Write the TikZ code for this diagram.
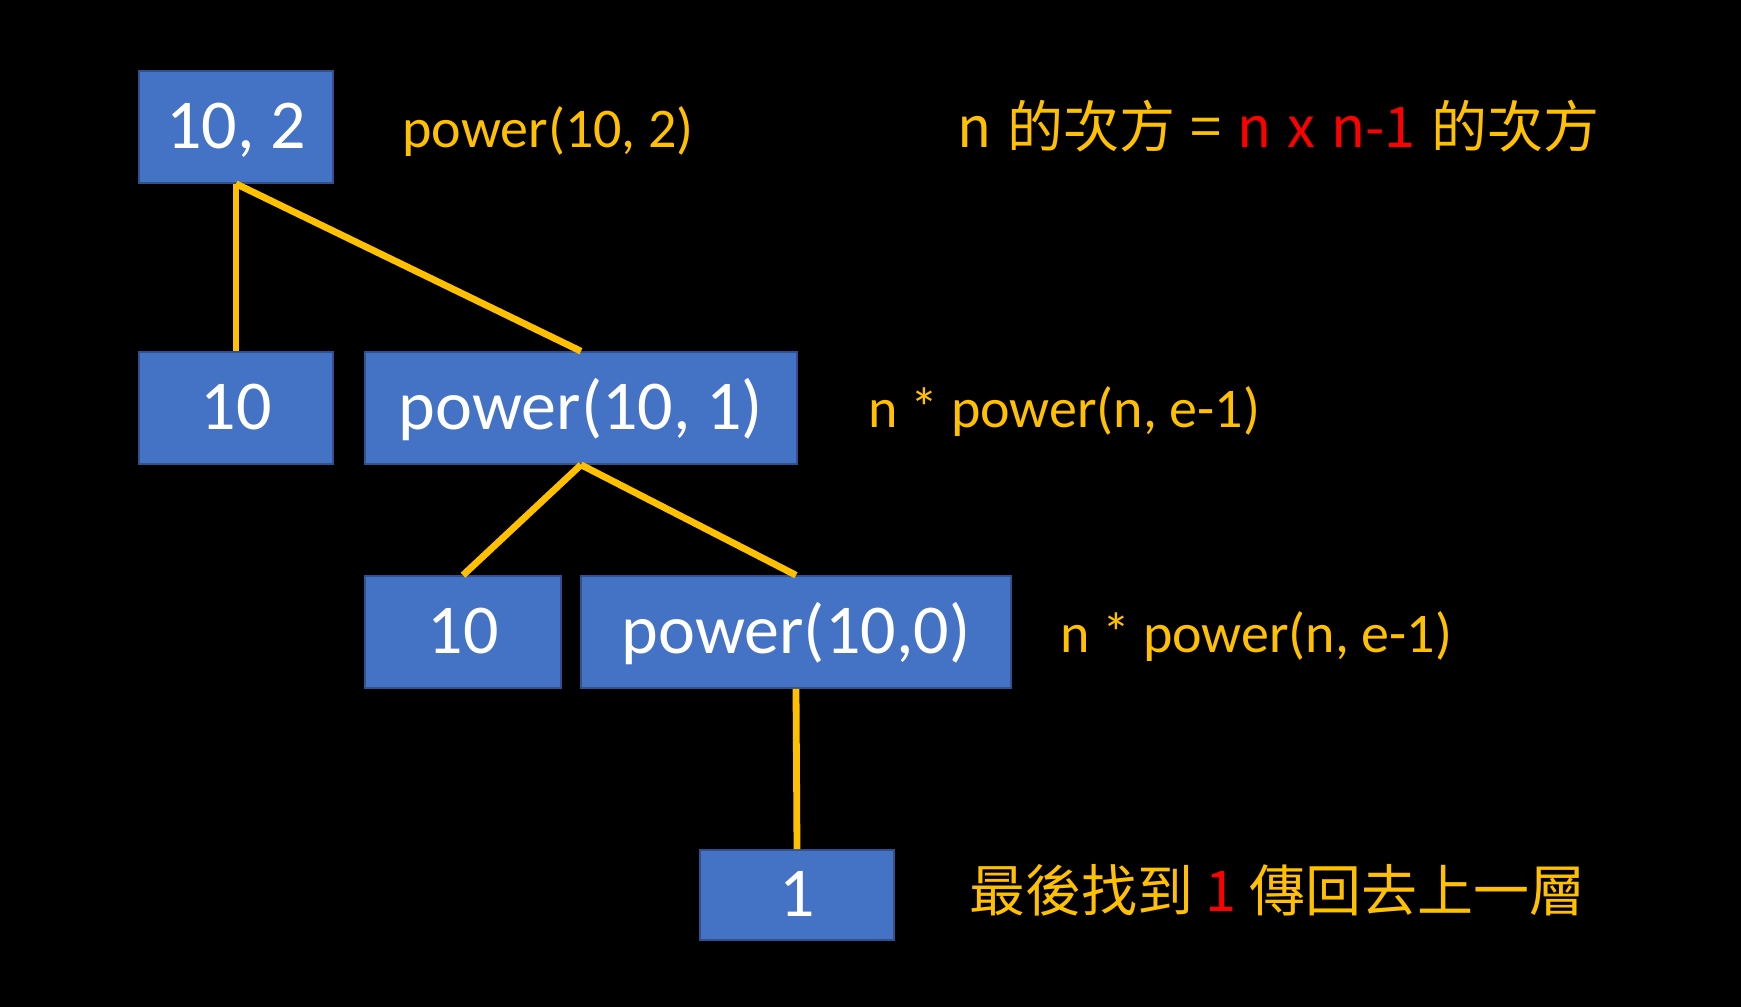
\documentclass[tikz,border=0pt]{standalone}
\usepackage{fontspec}
\setmainfont{Carlito}
\newfontfamily\cjk{Noto Sans CJK TC}
\usepackage{tikz}

\definecolor{boxblue}{HTML}{4472C4}
\definecolor{boxedge}{HTML}{2F528F}
\definecolor{gold}{HTML}{FFC000}
\definecolor{hot}{HTML}{FF0000}

\newcommand{\gap}{\hspace{0.28em}}

\tikzset{
  box/.style={draw=boxedge, line width=0.8pt, fill=boxblue, text=white,
    inner sep=0pt, minimum height=56pt, text height=21pt, text depth=0pt,
    font=\fontsize{35}{40}\selectfont},
  lbl/.style={anchor=base west, inner sep=0pt, text=gold,
    font=\fontsize{28}{32}\selectfont},
  link/.style={draw=gold, line width=3.4pt}
}

\begin{document}
\begin{tikzpicture}[x=0.5pt, y=-0.5pt]
      % Background
      \fill[black] (0,0) rectangle (1741,1007);
      \useasboundingbox (0,0) rectangle (1741,1007);

      % Draw the boxes of the recursion
      \node[box, minimum width=97pt] (top) at (236,127) {10, 2};
      \node[box, minimum width=97pt] (n1) at (236,408) {10};
      \node[box, minimum width=216pt] (p1) at (581,408) {power(10, 1)};
      \node[box, minimum width=98pt] (n2) at (463,632) {10};
      \node[box, minimum width=215pt] (p0) at (796,632) {power(10,0)};
      \node[box, minimum width=97pt, minimum height=45pt] (one) at (797,895) {1};

      % Draw edges from each call to its parts
      \foreach \a/\b in {top/n1, top/p1, p1/n2, p1/p0, p0/one}
        \draw[link] (\a.south) -- (\b.north);

      % Labels on the right
      \node[lbl] (call) at (402,147) {power(10, 2)};
      \node[lbl] (rule) at (957,147) {\cjk n\gap 的次方\gap =\gap \textcolor{hot}{n\gap x\gap n-1}\gap 的次方};
      \node[lbl] (step1) at (868,427) {n * power(n, e-1)};
      \node[lbl] (step0) at (1060,652) {n * power(n, e-1)};
      \node[lbl] (done) at (969,911) {\cjk 最後找到 \textcolor{hot}{1} 傳回去上一層};
    \end{tikzpicture}
\end{document}
